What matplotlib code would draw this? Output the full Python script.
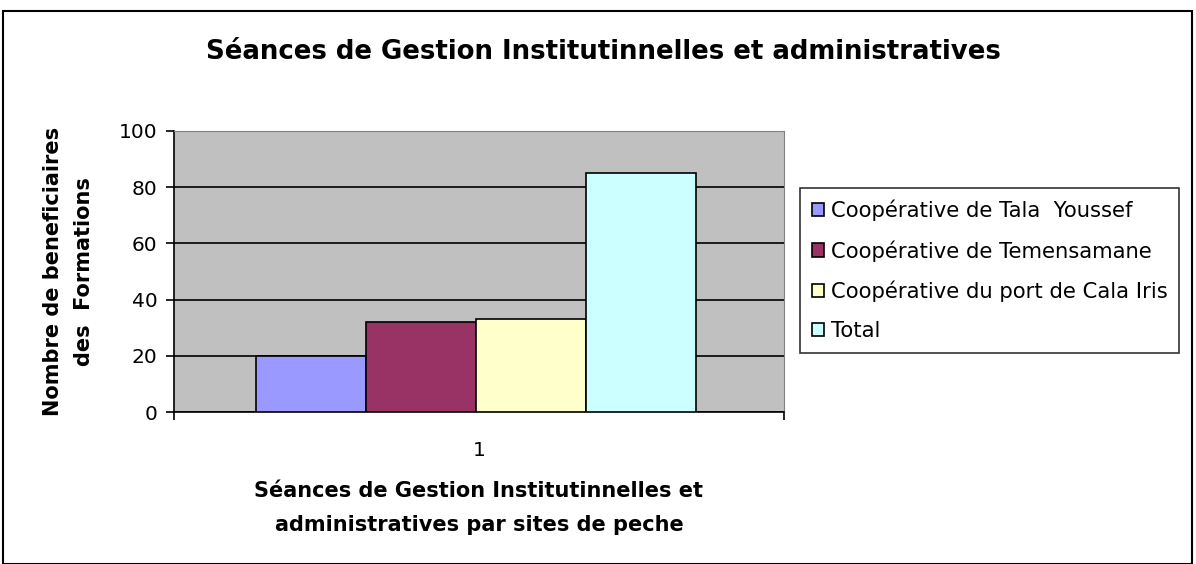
import numpy as np
import matplotlib.pyplot as plt
from matplotlib.patches import Rectangle

plt.rcParams['font.family'] = ['DejaVu Sans']

#===========================================================
#               data
#===========================================================
categories = ['1']
series = ['Coopérative de Tala  Youssef', 'Coopérative de Temensamane',
          'Coopérative du port de Cala Iris', 'Total']
values = [20, 32, 33, 85]
colors = ['#9999ff', '#993366', '#ffffcc', '#ccffff']
yticks = [0, 20, 40, 60, 80, 100]

#===========================================================
#               figure
#===========================================================
fig = plt.figure(figsize=(11.96, 5.64), dpi=100)
fig.patches.append(Rectangle((3/1196, 0.5/564), 1189/1196, 553/564,
                             transform=fig.transFigure, fill=False,
                             edgecolor='black', lw=1.5))

ax = fig.add_axes([174/1196, 1 - 412/564, 610/1196, 281/564])
ax.set_facecolor('#c0c0c0')

w = 0.18
x0 = 0.995 - 1.5 * w
for i, (s, v, c) in enumerate(zip(series, values, colors)):
    ax.bar(x0 + i * w, v, width=w, color=c, edgecolor='black', lw=1.2,
           label=s, zorder=3)

ax.set_xlim(0.5, 1.5)
ax.set_ylim(0, 100)
ax.set_yticks(yticks)
ax.set_xticks([1])
ax.set_xticklabels(categories)
ax.yaxis.grid(True, color='black', lw=1.2, zorder=1)
ax.set_axisbelow(True)
for sp in ['top', 'right']:
    ax.spines[sp].set_color('#808080')
for sp in ['left', 'bottom']:
    ax.spines[sp].set_linewidth(1.2)
ax.tick_params(axis='y', labelsize=14.5, length=6, width=1.2, direction='out', pad=6)
ax.tick_params(axis='x', labelsize=14.5, length=0, pad=21)
ax.set_xticks([0.5, 1.5], minor=True)
ax.tick_params(axis='x', which='minor', length=6, width=1.2)

ax.set_ylabel('Nombre de beneficiaires\ndes  Formations', fontsize=15,
              fontweight='bold', labelpad=18, linespacing=1.7)
ax.set_xlabel('Séances de Gestion Institutinnelles et\nadministratives par sites de peche',
              fontsize=15, fontweight='bold', labelpad=15, linespacing=1.9)

fig.text(603/1196, 1 - 52/564, 'Séances de Gestion Institutinnelles et administratives',
         ha='center', va='center', fontsize=18.7, fontweight='bold')

leg = ax.legend(loc='upper left', bbox_to_anchor=(800/1196, 1 - 188/564),
                bbox_transform=fig.transFigure, fontsize=15.2, frameon=True,
                fancybox=False, edgecolor='black', handlelength=0.6,
                handleheight=0.6, handletextpad=0.3, labelspacing=0.9,
                borderpad=0.55, borderaxespad=0)
leg.get_frame().set_linewidth(1.2)

fig.savefig('out.png', dpi=100)
